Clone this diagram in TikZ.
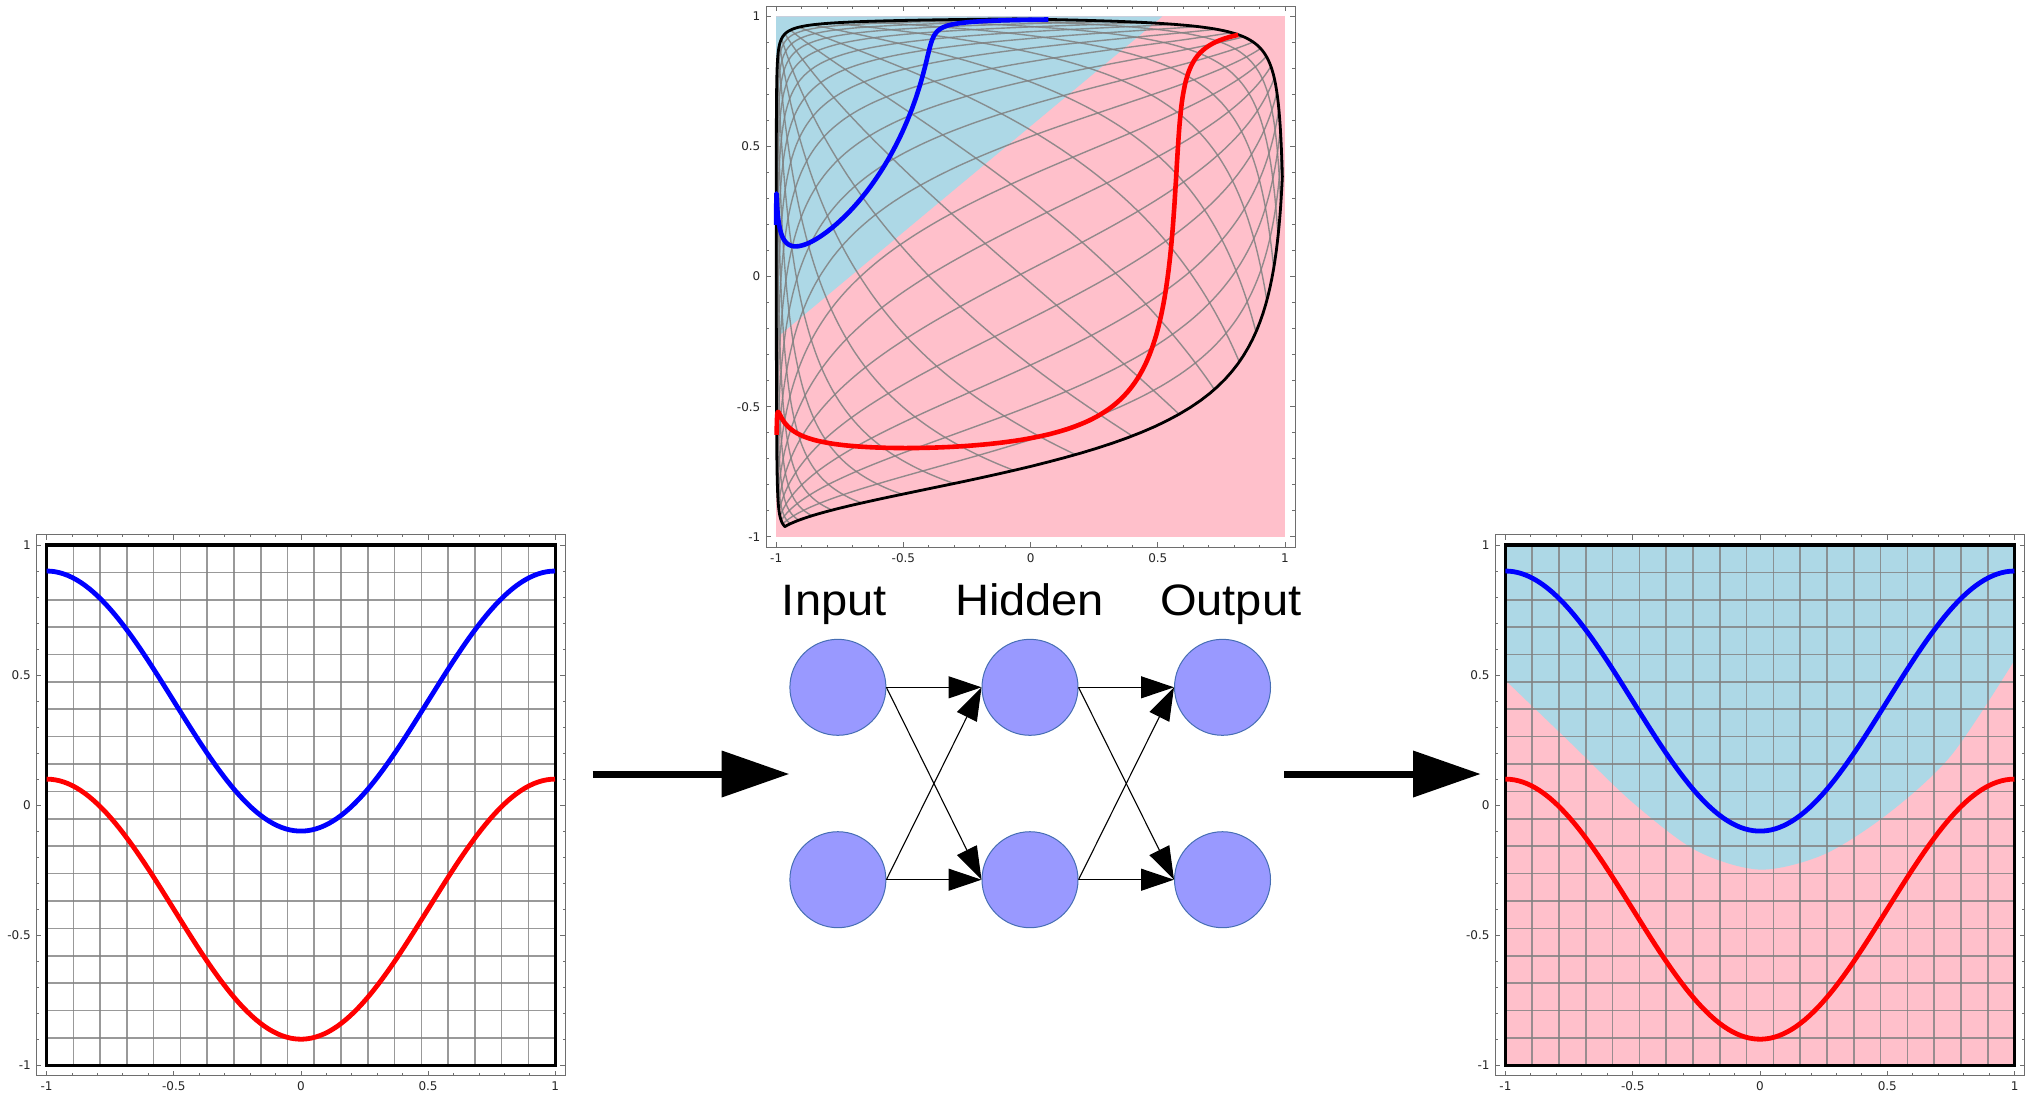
\documentclass[tikz,border=0pt]{standalone}
\usepackage{fontspec}
\setmainfont{DejaVu Sans}
\newfontfamily\labfont{Liberation Sans}
\usetikzlibrary{arrows.meta,shapes.geometric}
\definecolor{lblue}{HTML}{ADD8E6}
\definecolor{lpink}{HTML}{FFC0CB}
\definecolor{nodefill}{HTML}{9999FF}
\definecolor{nodeedge}{RGB}{70,110,180}
\definecolor{framecol}{RGB}{110,110,110}
\newcommand\plotframe{%
  \draw[framecol, line width=0.9pt] (-1.04,-1.04) rectangle (1.04,1.04);
  \foreach \k in {-10,...,10}{%
    \pgfmathsetmacro\tk{\k/10}%
    \pgfmathtruncatemacro\ismaj{mod(abs(\k),5)==0 ? 1 : 0}%
    \ifnum\ismaj=1 \def\tl{5pt}\else\def\tl{2.7pt}\fi
    \draw[framecol, line width=0.8pt] (\tk,-1.04) -- ++(0,\tl);
    \draw[framecol, line width=0.8pt] (\tk,1.04) -- ++(0,-\tl);
    \draw[framecol, line width=0.8pt] (-1.04,\tk) -- ++(\tl,0);
    \draw[framecol, line width=0.8pt] (1.04,\tk) -- ++(-\tl,0);
  }%
  \foreach \v/\s in {-1/-1,-0.5/-0.5,0/0,0.5/0.5,1/1}{%
    \node[ticklab, anchor=east] at ([xshift=-5.5pt]-1.04,\v) {\s};
    \node[ticklab, anchor=north] at ([yshift=-6pt]\v,-1.04) {\s};
  }%
}
\newcommand\squaregrid{%
  \foreach \k in {1,...,18}{%
    \pgfmathsetmacro\g{-1+\k*2/19}%
    \draw[gridline] (\g,-1) -- (\g,1);
    \draw[gridline] (-1,\g) -- (1,\g);
  }%
}
\begin{document}
\begin{tikzpicture}[x=1pt,y=-1pt,
  declare function={mu(\p,\q)=tanh(2.326*\p-1.344*\q-1.043);
                     mv(\p,\q)=tanh(1.18*\p+1.135*\q+0.36);},
  ticklab/.style={font=\fontsize{12}{12}\selectfont, inner sep=0pt, text=black!85},
  gridline/.style={draw=gray, opacity=0.8, line width=1.6pt},
  tgrid/.style={draw=gray, opacity=0.85, line width=1.4pt},
  databox/.style={draw=black, line width=3.2pt},
  bluecurve/.style={draw=blue, line width=4.8pt},
  redcurve/.style={draw=red, line width=4.8pt},
  neuron/.style={circle, minimum size=96pt, inner sep=0pt,
                 fill=nodefill, draw=nodeedge, line width=1pt},
  conn/.style={draw=black, line width=1.1pt, -{Triangle[length=33pt,width=22pt]}},
  bigarrow/.style={draw=black, line width=7pt, -{Triangle[length=67.6pt,width=45pt]}},
  lab/.style={font=\labfont\fontsize{44}{44}\selectfont, anchor=base, inner sep=0pt}]
\useasboundingbox (0,0) rectangle (2037,1096);
\fill[white] (0,0) rectangle (2037,1096);

% ---------------- left plot ----------------
\begin{scope}[shift={(300.9pt,-805.1pt)}, x=254.3pt, y=260.1pt]
  \plotframe
  \squaregrid
  \draw[databox] (-1,-1) rectangle (1,1);
  \draw[bluecurve] plot[domain=-1:1, samples=120, variable=\t] (\t,{0.4-0.5*cos(180*\t)});
  \draw[redcurve] plot[domain=-1:1, samples=120, variable=\t] (\t,{-0.4-0.5*cos(180*\t)});
\end{scope}

% ---------------- right plot ----------------
\begin{scope}[shift={(1760pt,-805.1pt)}, x=254.6pt, y=260.1pt]
  \plotframe
  \fill[lpink] (-1,-1) rectangle (1,1);
  \fill[lblue] (-1,1) -- plot[smooth] coordinates {(-1,0.48) (-0.75,0.245) (-0.5,0.01) (-0.25,-0.175) (0,-0.248) (0.25,-0.19) (0.5,-0.035) (0.75,0.19) (1,0.558)} -- (1,1) -- cycle;
  \squaregrid
  \draw[databox] (-1,-1) rectangle (1,1);
  \draw[bluecurve] plot[domain=-1:1, samples=120, variable=\t] (\t,{0.4-0.5*cos(180*\t)});
  \draw[redcurve] plot[domain=-1:1, samples=120, variable=\t] (\t,{-0.4-0.5*cos(180*\t)});
\end{scope}

% ---------------- top plot (hidden layer) ----------------
\begin{scope}[shift={(1030.6pt,-276.6pt)}, x=254.4pt, y=260.2pt]
  \plotframe
  \fill[lpink] (-1,-1) rectangle (1,1);
  \fill[lblue] (-1,1) -- (0.518,1) -- (-1,-0.236) -- cycle;
  \foreach \k in {1,...,18}{%
    \pgfmathsetmacro\g{-1+\k*2/19}%
    \draw[tgrid] plot[domain=-1:1, samples=45, smooth, variable=\t] ({mu(\g,\t)},{mv(\g,\t)});
    \draw[tgrid] plot[domain=-1:1, samples=45, smooth, variable=\t] ({mu(\t,\g)},{mv(\t,\g)});
  }
  \draw[black, line width=2.8pt, line join=round]
    plot[domain=-1:1, samples=70, variable=\t] ({mu(\t,-1)},{mv(\t,-1)})
    -- plot[domain=-1:1, samples=70, variable=\t] ({mu(1,\t)},{mv(1,\t)})
    -- plot[domain=1:-1, samples=70, variable=\t] ({mu(\t,1)},{mv(\t,1)})
    -- plot[domain=1:-1, samples=70, variable=\t] ({mu(-1,\t)},{mv(-1,\t)}) -- cycle;
  \draw[bluecurve, line width=4.6pt, line join=round] plot[domain=-1:1, samples=240, variable=\t]
    ({mu(\t,0.4-0.5*cos(180*\t))},{mv(\t,0.4-0.5*cos(180*\t))});
  \draw[redcurve, line width=4.6pt, line join=round] plot[domain=-1:1, samples=240, variable=\t]
    ({mu(\t,-0.4-0.5*cos(180*\t))},{mv(\t,-0.4-0.5*cos(180*\t))});
\end{scope}

% ---------------- network ----------------
\node[lab] (tin) at (834.3,615.7) {\scalebox{1.07}[1]{Input}};
\node[lab] (thid) at (1029.6,615.7) {\scalebox{1.07}[1]{Hidden}};
\node[lab] (tout) at (1230.7,615.7) {\scalebox{1.07}[1]{Output}};

\node[neuron] (i1) at (837.9,687.3) {};
\node[neuron] (i2) at (837.9,879.7) {};
\node[neuron] (h1) at (1030,687.3) {};
\node[neuron] (h2) at (1030,879.7) {};
\node[neuron] (o1) at (1222.5,687.3) {};
\node[neuron] (o2) at (1222.5,879.7) {};

\draw[conn] (i1.east) -- (h1.west);
\draw[conn] (i1.east) -- (h2.west);
\draw[conn] (i2.east) -- (h1.west);
\draw[conn] (i2.east) -- (h2.west);
\draw[conn] (h1.east) -- (o1.west);
\draw[conn] (h1.east) -- (o2.west);
\draw[conn] (h2.east) -- (o1.west);
\draw[conn] (h2.east) -- (o2.west);

% ---------------- big arrows ----------------
\coordinate (a1s) at (592.7,774);
\coordinate (a1e) at (789.3,774);
\coordinate (a2s) at (1284,774);
\coordinate (a2e) at (1480.7,774);
\draw[bigarrow] (a1s) -- (a1e);
\draw[bigarrow] (a2s) -- (a2e);
\end{tikzpicture}
\end{document}
